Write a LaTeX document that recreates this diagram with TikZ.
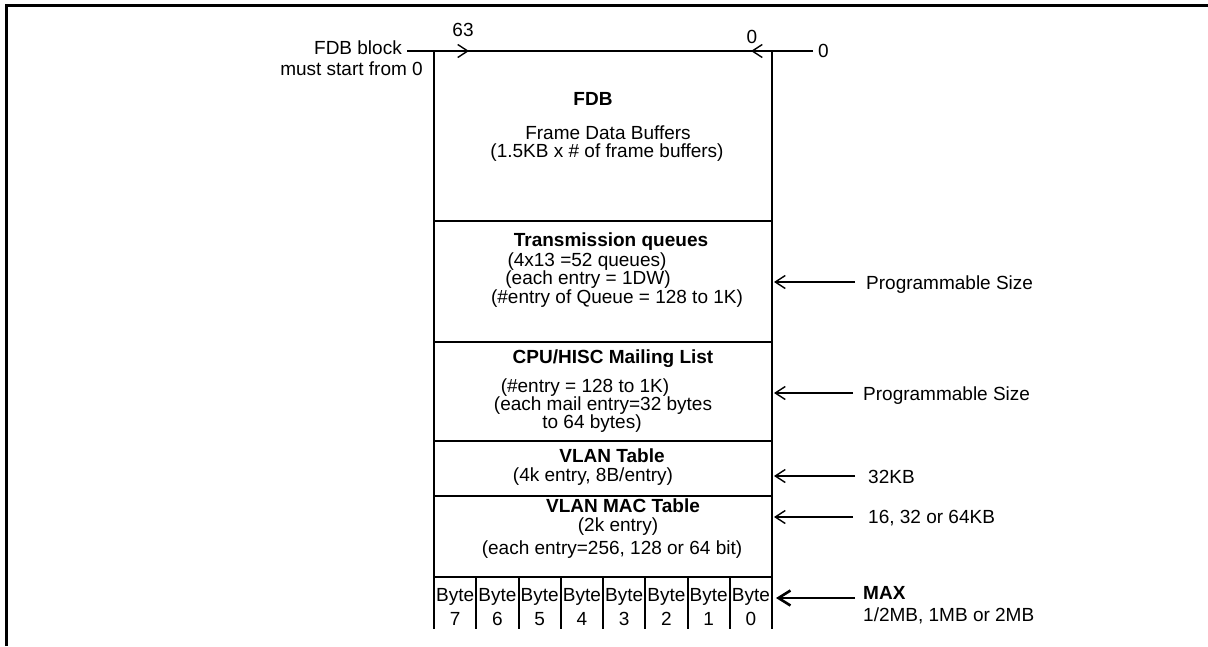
\documentclass[tikz,border=0pt]{standalone}
\usepackage{fontspec}
\setmainfont{Liberation Sans}
\usetikzlibrary{arrows.meta}
\tikzset{
  txt/.style={font=\fontsize{19}{19}\selectfont, inner sep=0pt, anchor=base},
  btxt/.style={txt, font=\fontsize{19}{19}\selectfont\bfseries},
  boxline/.style={line width=2pt, line cap=rect},
  frameline/.style={line width=3pt},
  arr/.style={line width=1.4pt, -{Straight Barb[length=10pt,width=13pt,line width=1.4pt]}},
  bigarr/.style={line width=2.6pt, -{Straight Barb[length=12pt,width=15pt,line width=2.6pt]}}
}
\begin{document}
\begin{tikzpicture}[x=1pt,y=-1pt]
\useasboundingbox (0,0) rectangle (1208,646);
% outer frame
\draw[frameline] (6.5,646) -- (6.5,5.5) -- (1208,5.5);
% top labels
\node[txt, anchor=base east] (fdbb) at (402,54) {FDB block};
\node[txt, anchor=base east] (must) at (423,75) {must start from 0};
\node[txt] (n63) at (463,36) {63};
\node[txt] (n0a) at (752,43) {0};
\node[txt, anchor=base west] (n0b) at (818,57) {0};
\coordinate (fdbl) at (407,51);
\coordinate (tipl) at (469,51);
\coordinate (zr) at (813,51);
\coordinate (tipr) at (751,51);
% memory box
\draw[boxline] (434,51) -- (772,51);
\draw[boxline] (434,51) -- (434,628);
\draw[boxline] (772,51) -- (772,628);
\foreach \yy in {221,342,441,496,577} \draw[boxline] (434,\yy) -- (772,\yy);
\foreach \k in {1,...,7} \draw[boxline] ({434+\k*42.25},577) -- ({434+\k*42.25},628);
\draw[arr] (fdbl) -- (tipl);
\draw[arr] (zr) -- (tipr);
% FDB block
\node[btxt] (fdb) at (593,105) {FDB};
\node[txt] (fdb1) at (608,139) {Frame Data Buffers};
\node[txt] (fdb2) at (607,157) {(1.5KB x \# of frame buffers)};
% Transmission queues
\node[btxt] (tq) at (611,246) {Transmission queues};
\node[txt] (tq1) at (587,266) {(4x13 =52 queues)};
\node[txt] (tq2) at (588,284) {(each entry = 1DW)};
\node[txt] (tq3) at (617,303) {(\#entry of Queue = 128 to 1K)};
% CPU/HISC
\node[btxt] (cpu) at (613,363) {CPU/HISC Mailing List};
\node[txt] (cpu1) at (585,392) {(\#entry = 128 to 1K)};
\node[txt] (cpu2) at (603,410) {(each mail entry=32 bytes};
\node[txt] (cpu3) at (592,428) {to 64 bytes)};
% VLAN table
\node[btxt] (vl) at (612,462) {VLAN Table};
\node[txt] (vl1) at (593,481) {(4k entry, 8B/entry)};
% VLAN MAC table
\node[btxt] (vm) at (623,512) {VLAN MAC Table};
\node[txt] (vm1) at (618,531) {(2k entry)};
\node[txt] (vm2) at (612,554) {(each entry=256, 128 or 64 bit)};
% bytes
\foreach \k in {0,...,7} {
  \node[txt] (by\k) at ({434+(7-\k)*42.25+21.1},601) {Byte};
  \node[txt] (bd\k) at ({434+(7-\k)*42.25+21.1},625) {\k};
}
% right side annotations
\node[txt, anchor=base west] (ps1) at (866,289) {Programmable Size};
\coordinate (ps1t) at (855,282); \coordinate (ps1h) at (774,282);
\draw[arr] (ps1t) -- (ps1h);
\node[txt, anchor=base west] (ps2) at (863,400) {Programmable Size};
\coordinate (ps2t) at (853,393); \coordinate (ps2h) at (774,393);
\draw[arr] (ps2t) -- (ps2h);
\node[txt, anchor=base west] (kb32) at (868,483) {32KB};
\coordinate (kb32t) at (855,476); \coordinate (kb32h) at (774,476);
\draw[arr] (kb32t) -- (kb32h);
\node[txt, anchor=base west] (kb64) at (868,523) {16, 32 or 64KB};
\coordinate (kb64t) at (853,517); \coordinate (kb64h) at (774,517);
\draw[arr] (kb64t) -- (kb64h);
\node[btxt, anchor=base west] (max) at (863,599) {MAX};
\node[txt, anchor=base west] (maxs) at (863,621) {1/2MB, 1MB or 2MB};
\coordinate (maxt) at (855,598); \coordinate (maxh) at (776,598);
\draw[bigarr] (maxt) -- (maxh);
\end{tikzpicture}
\end{document}
